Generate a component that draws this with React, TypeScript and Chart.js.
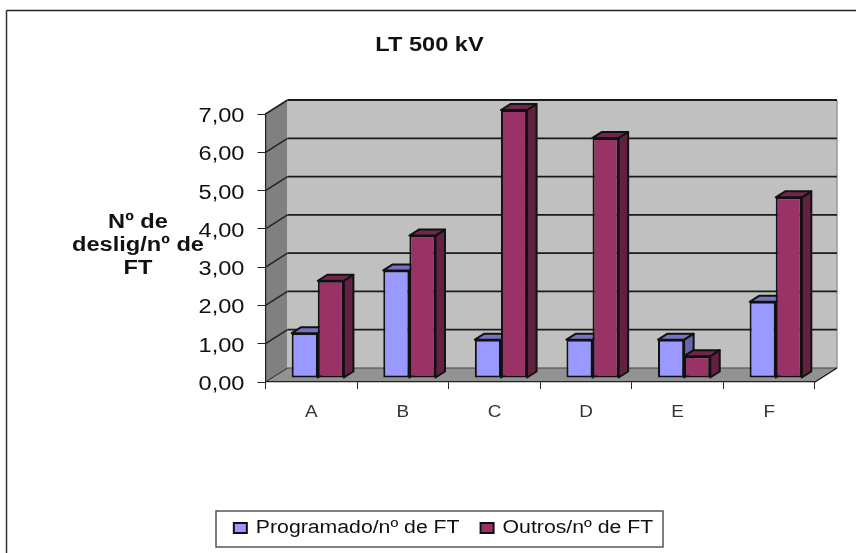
import React, { useEffect, useRef } from "react";
import { Chart, registerables } from "chart.js";

Chart.register(...registerables);

const categories = ["A", "B", "C", "D", "E", "F"];
const programado = [1.17, 2.81, 1.0, 1.0, 1.0, 1.99];
const outros = [2.54, 3.72, 7.0, 6.27, 0.57, 4.72];
const chartTitle = "LT 500 kV";
const axisTitleLines = ["Nº de", "deslig/nº de", "FT"];
const seriesNames = ["Programado/nº de FT", "Outros/nº de FT"];

const FONT = "'Liberation Sans', Arial, sans-serif";
const STRETCH = 1.18;
const WALL = { dx: 22, dy: -14 };
const BAR_PLANE = { dx: 6.5, dy: -4 };
const BAR_DEPTH = { dx: 9.5, dy: -6 };
const INK = "#111111";

const poly = (ctx: any, pts: number[][], fill: string | null, stroke?: string, lw = 2) => {
  ctx.beginPath();
  pts.forEach((p, i) => (i ? ctx.lineTo(p[0], p[1]) : ctx.moveTo(p[0], p[1])));
  ctx.closePath();
  if (fill) {
    ctx.fillStyle = fill;
    ctx.fill();
  }
  if (stroke) {
    ctx.strokeStyle = stroke;
    ctx.lineWidth = lw;
    ctx.lineJoin = "round";
    ctx.stroke();
  }
};

const line = (ctx: any, x1: number, y1: number, x2: number, y2: number, color: string, lw: number) => {
  ctx.beginPath();
  ctx.moveTo(x1, y1);
  ctx.lineTo(x2, y2);
  ctx.strokeStyle = color;
  ctx.lineWidth = lw;
  ctx.stroke();
};

const walls3d = {
  id: "walls3d",
  afterLayout(chart: any) {
    chart.titleBlock.left += 22;
    chart.titleBlock.right += 22;
    chart.legend.top = 498;
    chart.legend.bottom = chart.legend.top + chart.legend.height;
    chart.legend.left += 36;
    chart.legend.right += 36;
  },
  beforeDraw(chart: any) {
    const { ctx, chartArea: a, scales } = chart;
    const y = scales.y;
    const { dx, dy } = WALL;
    ctx.save();
    // outer frame
    line(ctx, 6.5, 10.5, 856, 10.5, "#222", 1.5);
    line(ctx, 6.5, 10.5, 6.5, 553, "#333", 1.5);
    // legend frame
    ctx.strokeStyle = "#555";
    ctx.lineWidth = 1.5;
    ctx.strokeRect(216, 511, 447, 36);
    // side wall, back wall, floor
    poly(ctx, [[a.left, a.top], [a.left + dx, a.top + dy], [a.left + dx, a.bottom + dy], [a.left, a.bottom]], "#808080");
    poly(ctx, [[a.left + dx, a.top + dy], [a.right + dx, a.top + dy], [a.right + dx, a.bottom + dy], [a.left + dx, a.bottom + dy]], "#C0C0C0");
    poly(ctx, [[a.left, a.bottom], [a.right, a.bottom], [a.right + dx, a.bottom + dy], [a.left + dx, a.bottom + dy]], "#929292");
    line(ctx, a.right + dx, a.top + dy, a.right + dx, a.bottom + dy, "#9a9a9a", 1.5);
    y.ticks.forEach((t: any) => {
      const py = y.getPixelForValue(t.value);
      line(ctx, a.left, py, a.left + dx, py + dy, "#222", t.value === 0 ? 1 : 1.5);
      line(ctx, a.left + dx, py + dy, a.right + dx, py + dy, t.value === 0 ? "#444" : "#1a1a1a", t.value === 0 ? 1.2 : 1.8);
    });
    line(ctx, a.right, a.bottom, a.right + dx, a.bottom + dy, "#111", 1.2);
    // axis title
    ctx.font = `bold 20px ${FONT}`;
    ctx.fillStyle = INK;
    ctx.textAlign = "center";
    ctx.textBaseline = "middle";
    axisTitleLines.forEach((s, i) => ctx.fillText(s, 138, 222 + i * 23));
    ctx.restore();
  },
  beforeDatasetsDraw(chart: any) {
    const { ctx } = chart;
    ctx.save();
    ctx.translate(BAR_PLANE.dx, BAR_PLANE.dy);
    const { dx, dy } = BAR_DEPTH;
    chart.data.datasets.forEach((ds: any, i: number) => {
      chart.getDatasetMeta(i).data.forEach((b: any) => {
        const l = b.x - b.width / 2;
        const r = b.x + b.width / 2;
        poly(ctx, [[r, b.y], [r + dx, b.y + dy], [r + dx, b.base + dy], [r, b.base]], ds.sideColor, ds.borderColor);
        poly(ctx, [[l, b.y], [l + dx, b.y + dy], [r + dx, b.y + dy], [r, b.y]], ds.topColor, ds.borderColor);
      });
    });
  },
  afterDatasetsDraw(chart: any) {
    chart.ctx.restore();
  },
};

export default function App() {
  const ref = useRef<HTMLCanvasElement>(null);
  useEffect(() => {
    const canvas = ref.current as HTMLCanvasElement;
    const ctx: any = canvas.getContext("2d");
    const rawFill = ctx.fillText.bind(ctx);
    const rawMeasure = ctx.measureText.bind(ctx);
    ctx.fillText = (t: string, x: number, y: number) => {
      ctx.save();
      ctx.translate(x, y + (ctx.textAlign === "right" ? 2.5 : 0));
      ctx.scale(STRETCH, 1);
      rawFill(t, 0, 0);
      ctx.restore();
    };
    ctx.measureText = (t: string) => ({ width: rawMeasure(t).width * STRETCH });

    const chart = new Chart(canvas, {
      type: "bar",
      data: {
        labels: categories,
        datasets: [
          {
            label: seriesNames[0],
            data: programado,
            backgroundColor: "#9999FF",
            borderColor: "#111111",
            borderWidth: 2,
            borderSkipped: false,
            clip: false,
            sideColor: "#6666AA",
            topColor: "#7373C0",
          },
          {
            label: seriesNames[1],
            data: outros,
            backgroundColor: "#993366",
            borderColor: "#111111",
            borderWidth: 2,
            borderSkipped: false,
            clip: false,
            sideColor: "#632142",
            topColor: "#73264D",
          },
        ] as any,
      },
      options: {
        responsive: false,
        animation: false,
        events: [],
        layout: { padding: { left: 0, right: 41, top: 0, bottom: 0 } },
        datasets: { bar: { categoryPercentage: 0.57, barPercentage: 1 } },
        plugins: {
          tooltip: { enabled: false },
          title: {
            display: true,
            text: chartTitle,
            color: INK,
            font: { family: FONT, size: 20, weight: "bold", lineHeight: 1.2 },
            padding: { top: 33, bottom: 57 },
          },
          legend: {
            position: "bottom",
            labels: {
              color: INK,
              font: { family: FONT, size: 18 },
              boxWidth: 13,
              boxHeight: 10,
              padding: 21,
            },
          },
        },
        scales: {
          x: {
            afterFit: (s: any) => {
              s.height = 553 - 382 - (s.chart.legend?.height ?? 0);
            },
            grid: { drawOnChartArea: false, drawTicks: true, tickLength: 7, color: "#222", lineWidth: 1 },
            border: { display: true, color: "#222", width: 1.2 },
            ticks: { color: "#333", font: { family: FONT, size: 16 }, padding: 14, maxRotation: 0 },
          },
          y: {
            min: 0,
            max: 7,
            afterFit: (s: any) => {
              s.width = 265.5;
            },
            grid: { drawOnChartArea: false, drawTicks: true, tickLength: 8, color: "#222", lineWidth: 1 },
            border: { display: true, color: "#222", width: 1.2 },
            ticks: {
              stepSize: 1,
              color: INK,
              font: { family: FONT, size: 20 },
              padding: 13,
              callback: (v: any) => Number(v).toFixed(2).replace(".", ","),
            },
          },
        },
      } as any,
      plugins: [walls3d],
    });
    return () => chart.destroy();
  }, []);
  return (
    <canvas
      ref={ref}
      width={856}
      height={553}
      style={{ position: "absolute", left: 0, top: 0, width: 856, height: 553, display: "block", filter: "blur(0.45px)" }}
    />
  );
}
